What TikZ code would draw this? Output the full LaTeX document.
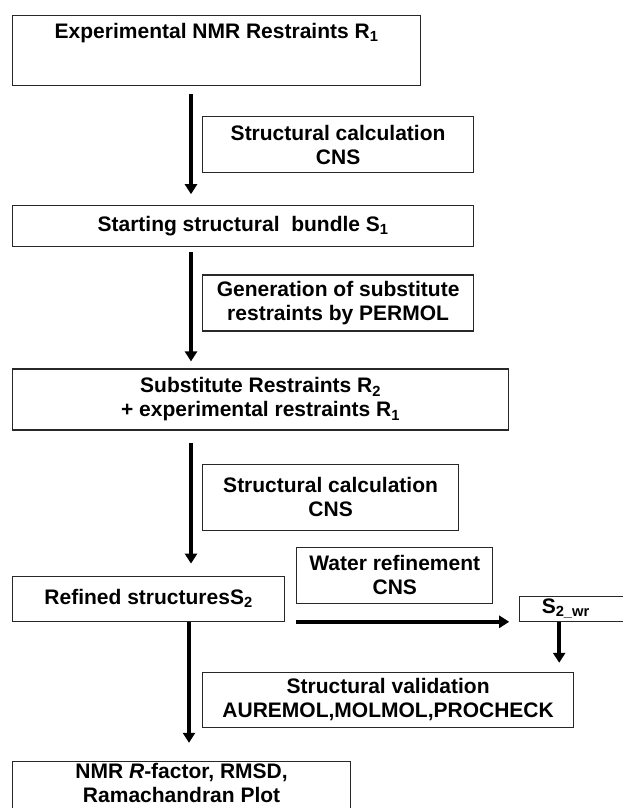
\documentclass[tikz,border=0pt]{standalone}
\usepackage{fontspec}
\setmainfont{Liberation Sans}
\usepackage{tikz}
\usetikzlibrary{arrows.meta,positioning}
\definecolor{ink}{RGB}{40,40,40}
\tikzset{
  stage/.style={draw=ink,line width=1.2pt,inner sep=0pt,align=center,
    font=\bfseries\fontsize{21}{24}\selectfont,anchor=north west},
  tool/.style={stage},
  arr/.style={-{Triangle[length=10pt,width=12pt]},line width=3.5pt,black},
}
\newcommand{\sub}[1]{\textsubscript{#1}}

\begin{document}
\begin{tikzpicture}[x=1pt,y=-1pt]
\useasboundingbox (0,0) rectangle (622,808);

% ---- input restraints ----
\node[stage,minimum width=408pt,minimum height=70pt] (exp) at (12,15)
  {Experimental NMR Restraints R\sub{1}\\[15pt]\mbox{}};
\node[tool,minimum width=271pt,minimum height=56pt,
  below right=30pt and 190pt of exp.south west] (calcA)
  {Structural calculation\\CNS};

% ---- first bundle ----
\node[stage,minimum width=461pt,minimum height=41pt,
  below right=119pt and 0pt of exp.south west] (start)
  {Starting structural \ bundle S\sub{1}};
\node[tool,minimum width=271pt,minimum height=56pt,
  below right=27pt and 190pt of start.south west] (gen)
  {Generation of substitute\\restraints by PERMOL};

% ---- substitute restraints ----
\node[stage,minimum width=496pt,minimum height=61pt,
  below right=121pt and 0pt of start.south west] (subst)
  {Substitute Restraints R\sub{2}\\+ experimental restraints R\sub{1}};
\node[tool,minimum width=256pt,minimum height=66pt,
  below right=33pt and 190pt of subst.south west] (calcB)
  {Structural calculation\\CNS};

% ---- refinement ----
\node[stage,minimum width=272pt,minimum height=45pt,
  below right=145pt and 0pt of subst.south west] (refined)
  {Refined structuresS\sub{2}};
\node[tool,minimum width=196pt,minimum height=56pt,
  below right=-29pt and 11pt of refined.north east] (water)
  {Water refinement\\CNS};
\node[stage,minimum width=110pt,minimum height=25pt,text width=110pt,align=left,
  above right=0pt and 234pt of refined.south east,anchor=south west] (wr)
  {\hspace*{22pt}S\sub{2\_wr}};
\coordinate (wrend) at ([xshift=40pt,yshift=-41pt]wr.south west);

% ---- validation ----
\node[tool,minimum width=371pt,minimum height=55pt,
  below right=50pt and 190pt of refined.south west] (valid)
  {Structural validation\\AUREMOL,MOLMOL,PROCHECK};
\node[stage,minimum width=338pt,minimum height=64pt,
  below right=139pt and 0pt of refined.south west] (result)
  {NMR \textit{R}-factor, RMSD,\\Ramachandran Plot\\[-2pt]\mbox{}};

\draw[arr,shorten <=8pt,shorten >=11pt] ([xshift=179pt]exp.south west) -- ([xshift=179pt]start.north west);
\draw[arr,shorten <=5pt,shorten >=7pt] ([xshift=179pt]start.south west) -- ([xshift=179pt]subst.north west);
\draw[arr,shorten <=12pt,shorten >=12pt] ([xshift=179pt]subst.south west) -- ([xshift=179pt]refined.north west);
\draw[arr,shorten >=18pt] ([xshift=177pt]refined.south west) -- ([xshift=177pt]result.north west);
\draw[arr,shorten <=11pt,shorten >=10pt] (refined.south east) -- (wr.south west);
\draw[arr] ([xshift=40pt]wr.south west) -- (wrend);
\end{tikzpicture}
\end{document}
